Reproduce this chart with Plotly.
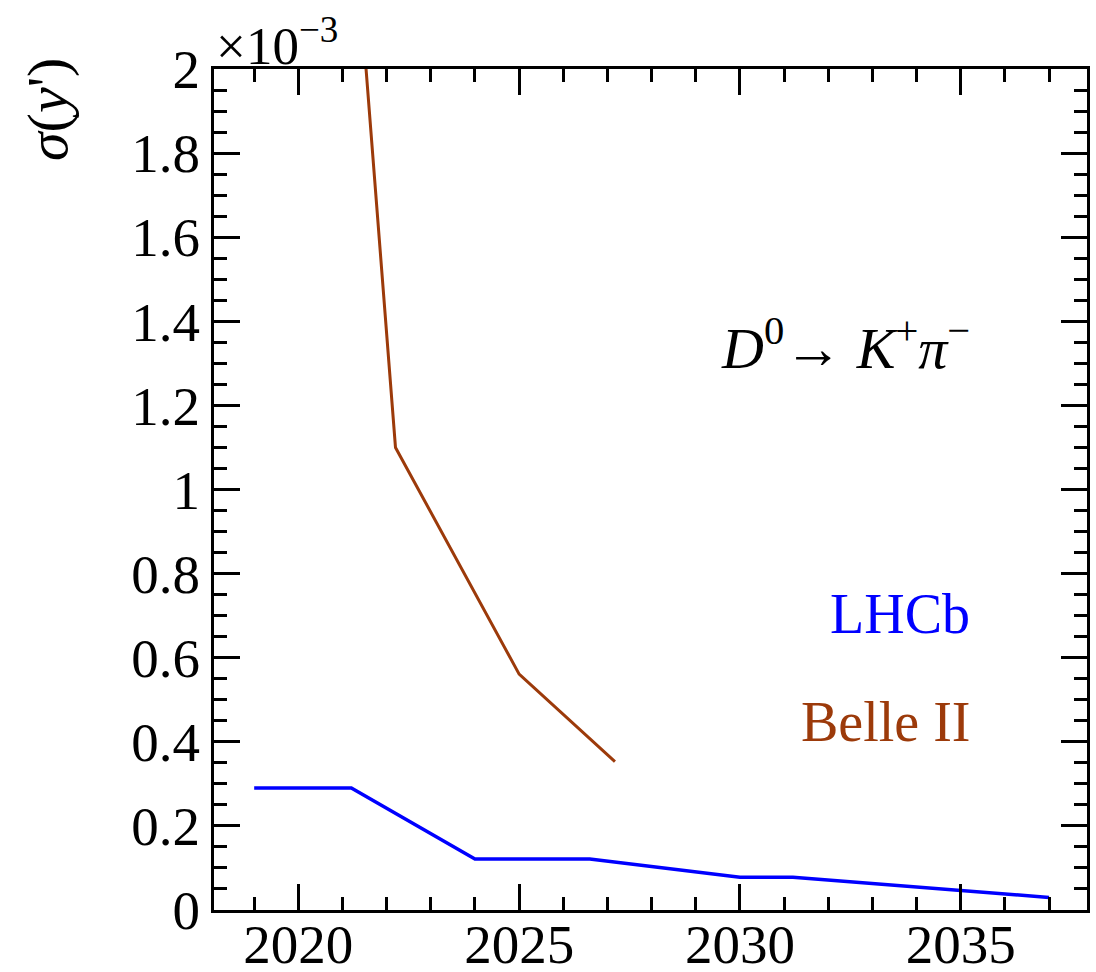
import plotly.graph_objects as go

# Data (sigma(y') in units of 1e-3)
lhcb_year = [2019.0, 2021.2, 2024.0, 2026.6, 2030.0, 2031.2, 2037.0]
lhcb_sigma = [0.290, 0.290, 0.121, 0.121, 0.078, 0.078, 0.030]

belle_year = [2021.0, 2022.2, 2025.0, 2027.17]
belle_sigma = [2.72, 1.10, 0.561, 0.353]

FONT = "Liberation Serif"
BLUE = "#0000ff"
BROWN = "#9c3a0a"

fig = go.Figure()
fig.add_trace(go.Scatter(x=lhcb_year, y=lhcb_sigma, mode="lines",
                         line=dict(color=BLUE, width=3.5), name="LHCb", showlegend=False))
fig.add_trace(go.Scatter(x=belle_year, y=belle_sigma, mode="lines",
                         line=dict(color=BROWN, width=3), name="Belle II", showlegend=False))

axis_common = dict(
    showline=True, linecolor="black", linewidth=3, mirror="allticks",
    ticks="inside", ticklen=26, tickwidth=3, tickcolor="black",
    showgrid=False, zeroline=False,
    tickfont=dict(family=FONT, size=55, color="black"),
    automargin=False,
)

fig.update_xaxes(range=[2018.09, 2037.86], tick0=2020, dtick=5, ticklabelstandoff=-16,
                 minor=dict(dtick=1, ticklen=13, tickwidth=3, tickcolor="black", ticks="inside", showgrid=False),
                 **axis_common)
fig.update_yaxes(range=[0, 2], tick0=0, dtick=0.2,
                 minor=dict(dtick=0.05, ticklen=13, tickwidth=3, tickcolor="black", ticks="inside", showgrid=False),
                 **axis_common)

fig.add_annotation(text="<i>σ</i>(<i>y</i>')", xref="paper", yref="paper",
                   x=-0.19, y=1.015, xanchor="center", yanchor="top", textangle=-90,
                   showarrow=False, font=dict(family=FONT, size=58, color="black"))
fig.add_annotation(text="×10<sup>−3</sup>", xref="paper", yref="paper",
                   x=0.0, y=1.0, xanchor="left", yanchor="bottom", yshift=-8,
                   showarrow=False, font=dict(family=FONT, size=53, color="black"))
fig.add_annotation(text="<i>D</i><sup>0</sup>→ <i>K</i><sup>+</sup><i>π</i><sup>−</sup>",
                   xref="paper", yref="paper", x=0.868, y=0.672, xanchor="right", yanchor="middle",
                   showarrow=False, font=dict(family=FONT, size=58, color="black"))
fig.add_annotation(text="LHCb", xref="paper", yref="paper", x=0.868, y=0.352,
                   xanchor="right", yanchor="middle", showarrow=False,
                   font=dict(family=FONT, size=56, color=BLUE))
fig.add_annotation(text="Belle II", xref="paper", yref="paper", x=0.868, y=0.224,
                   xanchor="right", yanchor="middle", showarrow=False,
                   font=dict(family=FONT, size=56, color=BROWN))

fig.update_layout(
    width=1096, height=972,
    margin=dict(l=214, r=9, t=69, b=62, autoexpand=False),
    paper_bgcolor="white", plot_bgcolor="white",
    font=dict(family=FONT, color="black"),
)

fig.write_html("out.html")
